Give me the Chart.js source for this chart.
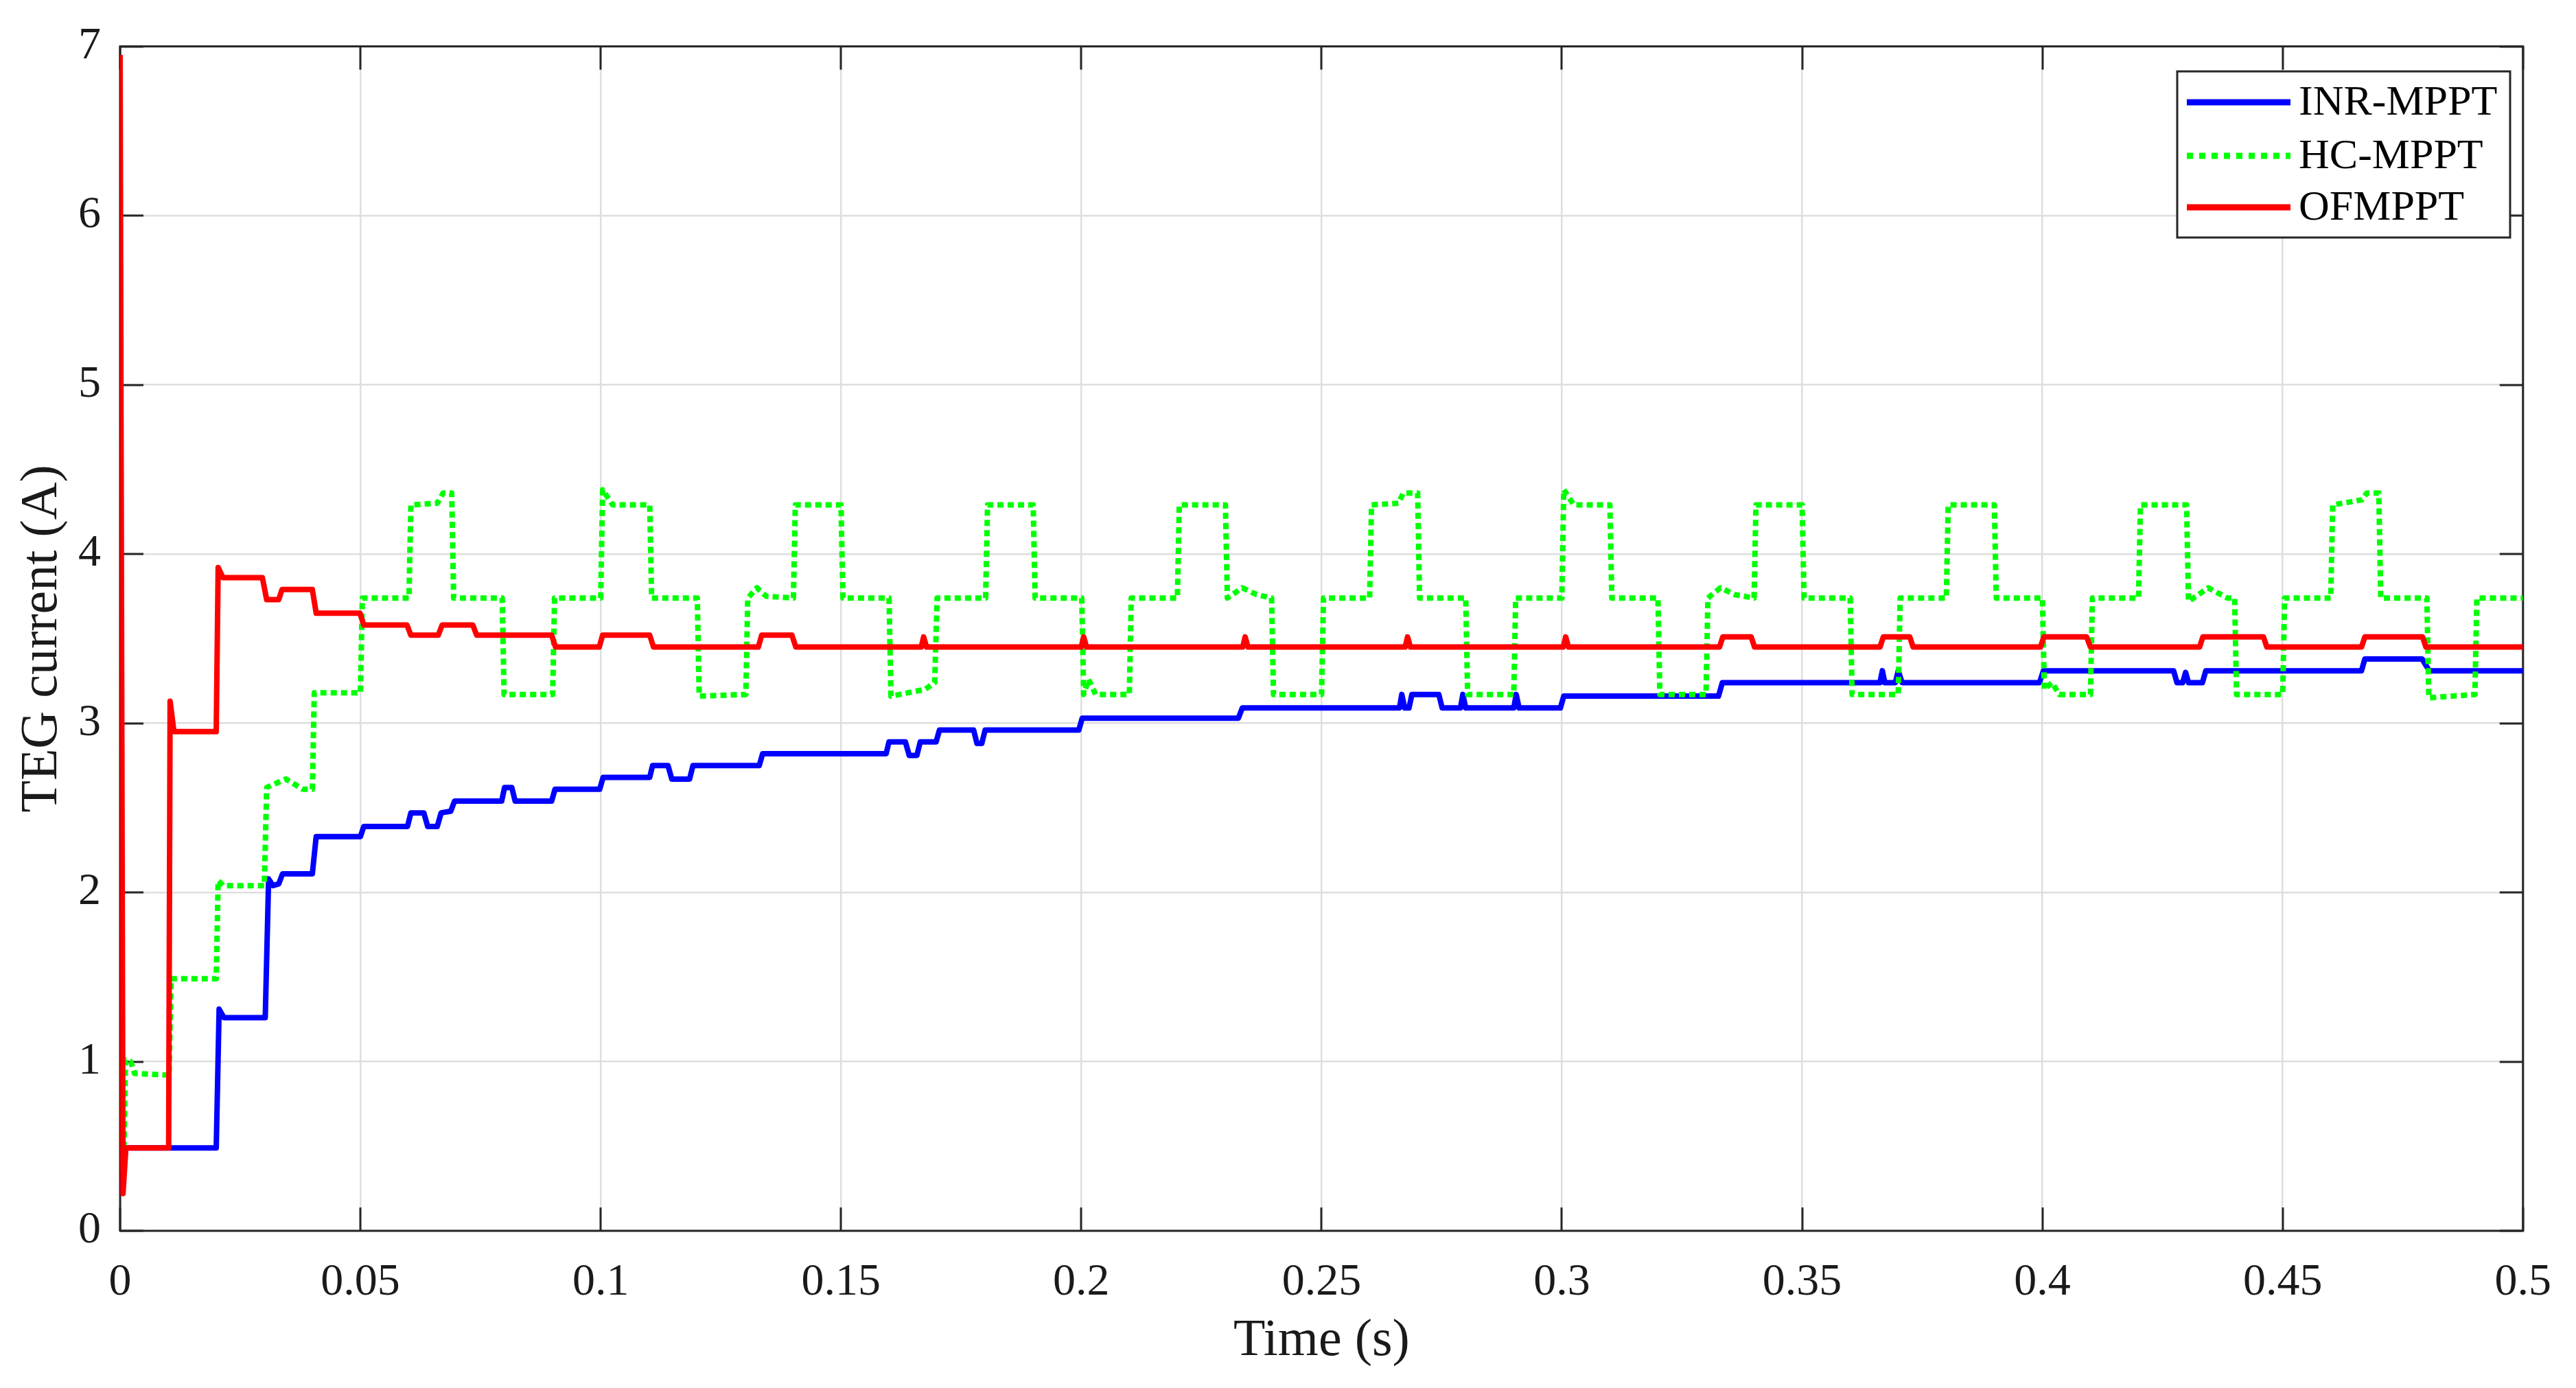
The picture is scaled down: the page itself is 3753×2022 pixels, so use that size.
<!DOCTYPE html>
<html>
<head>
<meta charset="utf-8">
<title>TEG current</title>
<script src="https://cdn.jsdelivr.net/npm/chart.js@4.4.1/dist/chart.umd.min.js"></script>
<style>
  html, body { margin: 0; padding: 0; background: #ffffff; }
  #wrap { width: 3753px; height: 2022px; }
</style>
</head>
<body>
<div id="wrap"><canvas id="tegChart" width="3753" height="2022"></canvas></div>
<script>
// tick positions and labels
const timeTicks = [0, 0.05, 0.1, 0.15, 0.2, 0.25, 0.3, 0.35, 0.4, 0.45, 0.5];
const timeTickLabels = ["0", "0.05", "0.1", "0.15", "0.2", "0.25", "0.3", "0.35", "0.4", "0.45", "0.5"];
const currentTicks = [0, 1, 2, 3, 4, 5, 6, 7];
const currentTickLabels = ["0", "1", "2", "3", "4", "5", "6", "7"];

const seriesNames = ["INR-MPPT", "HC-MPPT", "OFMPPT"];

// [time (s), current (A)]
const inrMppt = [
  [0, 0.22], [0.0012, 0.49], [0.0200, 0.49], [0.0206, 1.31], [0.0216, 1.26], [0.0302, 1.26],
  [0.0309, 2.08], [0.0318, 2.04], [0.0330, 2.05], [0.0338, 2.11], [0.0400, 2.11], [0.0408, 2.33],
  [0.0500, 2.33], [0.0507, 2.39], [0.0598, 2.39], [0.0605, 2.47], [0.0632, 2.47], [0.0640, 2.39],
  [0.0660, 2.39], [0.0668, 2.47], [0.0688, 2.48], [0.0696, 2.54], [0.0794, 2.54], [0.0800, 2.62],
  [0.0815, 2.62], [0.0822, 2.54], [0.0898, 2.54], [0.0905, 2.61], [0.0998, 2.61], [0.1005, 2.68],
  [0.1102, 2.68], [0.1108, 2.75], [0.1140, 2.75], [0.1148, 2.67], [0.1185, 2.67], [0.1192, 2.75],
  [0.1330, 2.75], [0.1337, 2.82], [0.1594, 2.82], [0.1600, 2.89], [0.1634, 2.89], [0.1642, 2.81],
  [0.1658, 2.81], [0.1665, 2.89], [0.1698, 2.89], [0.1705, 2.96], [0.1776, 2.96], [0.1783, 2.88],
  [0.1793, 2.88], [0.1800, 2.96], [0.1995, 2.96], [0.2002, 3.03], [0.2327, 3.03], [0.2335, 3.09],
  [0.2662, 3.09], [0.2667, 3.17], [0.2673, 3.09], [0.2682, 3.09], [0.2688, 3.17], [0.2744, 3.17],
  [0.2751, 3.09], [0.2789, 3.09], [0.2794, 3.17], [0.2800, 3.09], [0.2900, 3.09], [0.2905, 3.17],
  [0.2911, 3.09], [0.2997, 3.09], [0.3004, 3.16], [0.3326, 3.16], [0.3334, 3.24], [0.3662, 3.24],
  [0.3667, 3.31], [0.3672, 3.24], [0.3694, 3.24], [0.3700, 3.31], [0.3708, 3.24], [0.3994, 3.24],
  [0.4002, 3.31], [0.4273, 3.31], [0.4280, 3.24], [0.4292, 3.24], [0.4298, 3.30], [0.4304, 3.24],
  [0.4333, 3.24], [0.4340, 3.31], [0.4664, 3.31], [0.4671, 3.38], [0.4790, 3.38], [0.4805, 3.31],
  [0.5, 3.31]
];

const hcMppt = [
  [0.0008, 0.49], [0.0011, 1.01], [0.0022, 1.0], [0.0030, 0.93], [0.0102, 0.92], [0.0106, 1.49],
  [0.0200, 1.49], [0.0204, 2.07], [0.0215, 2.04], [0.0300, 2.04], [0.0305, 2.62], [0.0345, 2.67],
  [0.0380, 2.61], [0.0400, 2.61], [0.0404, 3.18], [0.0500, 3.18], [0.0504, 3.74], [0.0601, 3.74],
  [0.0605, 4.29], [0.0660, 4.30], [0.0672, 4.36], [0.0690, 4.36], [0.0694, 3.74], [0.0795, 3.74],
  [0.0799, 3.17], [0.0900, 3.17], [0.0904, 3.74], [0.1000, 3.74], [0.1004, 4.38], [0.1025, 4.29],
  [0.1102, 4.29], [0.1106, 3.74], [0.1201, 3.74], [0.1205, 3.16], [0.1302, 3.17], [0.1306, 3.74],
  [0.1325, 3.80], [0.1345, 3.75], [0.1401, 3.74], [0.1405, 4.29], [0.1500, 4.29], [0.1504, 3.74],
  [0.1600, 3.74], [0.1604, 3.16], [0.1675, 3.20], [0.1695, 3.24], [0.1700, 3.74], [0.1801, 3.74],
  [0.1805, 4.29], [0.1900, 4.29], [0.1904, 3.74], [0.2001, 3.74], [0.2005, 3.17], [0.2015, 3.26],
  [0.2030, 3.17], [0.2100, 3.17], [0.2104, 3.74], [0.2200, 3.74], [0.2204, 4.29], [0.2300, 4.29],
  [0.2304, 3.74], [0.2335, 3.80], [0.2365, 3.76], [0.2396, 3.74], [0.2400, 3.17], [0.2500, 3.17],
  [0.2504, 3.74], [0.2600, 3.74], [0.2604, 4.29], [0.2660, 4.30], [0.2670, 4.36], [0.2700, 4.36],
  [0.2704, 3.74], [0.2800, 3.74], [0.2804, 3.17], [0.2900, 3.17], [0.2904, 3.74], [0.3000, 3.74],
  [0.3004, 4.38], [0.3025, 4.29], [0.3100, 4.29], [0.3104, 3.74], [0.3200, 3.74], [0.3204, 3.17],
  [0.3300, 3.17], [0.3304, 3.74], [0.3330, 3.80], [0.3360, 3.76], [0.3400, 3.74], [0.3404, 4.29],
  [0.3500, 4.29], [0.3504, 3.74], [0.3600, 3.74], [0.3604, 3.17], [0.3700, 3.17], [0.3704, 3.74],
  [0.3800, 3.74], [0.3804, 4.29], [0.3900, 4.29], [0.3904, 3.74], [0.4000, 3.74], [0.4004, 3.20],
  [0.4020, 3.24], [0.4035, 3.17], [0.4100, 3.17], [0.4104, 3.74], [0.4200, 3.74], [0.4204, 4.29],
  [0.4300, 4.29], [0.4304, 3.72], [0.4345, 3.80], [0.4385, 3.74], [0.4400, 3.74], [0.4404, 3.17],
  [0.4500, 3.17], [0.4504, 3.74], [0.4600, 3.74], [0.4604, 4.29], [0.4665, 4.32], [0.4675, 4.36],
  [0.4700, 4.36], [0.4704, 3.74], [0.4800, 3.74], [0.4804, 3.15], [0.4900, 3.17], [0.4904, 3.74],
  [0.5, 3.74]
];

const ofMppt = [
  [0, 6.95], [0.0006, 0.22], [0.0012, 0.49], [0.0101, 0.49], [0.0104, 3.13], [0.0112, 2.95],
  [0.0200, 2.95], [0.0204, 3.92], [0.0214, 3.86], [0.0296, 3.86], [0.0305, 3.73], [0.0330, 3.73],
  [0.0337, 3.79], [0.0400, 3.79], [0.0408, 3.65], [0.0499, 3.65], [0.0507, 3.58], [0.0597, 3.58],
  [0.0605, 3.52], [0.0662, 3.52], [0.0670, 3.58], [0.0734, 3.58], [0.0742, 3.52], [0.0898, 3.52],
  [0.0906, 3.45], [0.0997, 3.45], [0.1004, 3.52], [0.1102, 3.52], [0.1110, 3.45], [0.1328, 3.45],
  [0.1335, 3.52], [0.1398, 3.52], [0.1406, 3.45], [0.1667, 3.45], [0.1672, 3.51], [0.1678, 3.45],
  [0.2000, 3.45], [0.2005, 3.51], [0.2011, 3.45], [0.2336, 3.45], [0.2341, 3.51], [0.2347, 3.45],
  [0.2674, 3.45], [0.2679, 3.51], [0.2685, 3.45], [0.3003, 3.45], [0.3008, 3.51], [0.3014, 3.45],
  [0.3328, 3.45], [0.3335, 3.51], [0.3394, 3.51], [0.3401, 3.45], [0.3662, 3.45], [0.3669, 3.51],
  [0.3724, 3.51], [0.3731, 3.45], [0.3996, 3.45], [0.4003, 3.51], [0.4092, 3.51], [0.4100, 3.45],
  [0.4327, 3.45], [0.4334, 3.51], [0.4460, 3.51], [0.4467, 3.45], [0.4664, 3.45], [0.4671, 3.51],
  [0.4791, 3.51], [0.4798, 3.45], [0.5, 3.45]
];

const FONT = "'Liberation Serif', 'Times New Roman', serif";
const INK = "#1a1a1a";

function toPoints(pairs) {
  return pairs.map(p => ({ x: p[0], y: p[1] }));
}

// MATLAB style box with inward ticks on all four sides
const boxPlugin = {
  id: "box",
  beforeDatasetsDraw(chart) {
    const { ctx, chartArea: a, scales: { x, y } } = chart;
    const len = 34;
    ctx.save();
    ctx.strokeStyle = "#262626";
    ctx.lineWidth = 3;
    ctx.beginPath();
    timeTicks.forEach(v => {
      const px = Math.round(x.getPixelForValue(v));
      ctx.moveTo(px, a.bottom); ctx.lineTo(px, a.bottom - len);
      ctx.moveTo(px, a.top); ctx.lineTo(px, a.top + len);
    });
    currentTicks.forEach(v => {
      const py = Math.round(y.getPixelForValue(v));
      ctx.moveTo(a.left, py); ctx.lineTo(a.left + len, py);
      ctx.moveTo(a.right, py); ctx.lineTo(a.right - len, py);
    });
    ctx.stroke();
    ctx.strokeRect(a.left, a.top, a.right - a.left, a.bottom - a.top);
    ctx.restore();
  }
};

// boxed legend in the upper right corner
const legendBox = {
  id: "legendBox",
  afterDraw(chart) {
    const { ctx } = chart;
    const bx = 3172, by = 104, bw = 485, bh = 242;
    const rows = [149, 227, 302];
    ctx.save();
    ctx.fillStyle = "#ffffff";
    ctx.fillRect(bx, by, bw, bh);
    ctx.strokeStyle = "#262626";
    ctx.lineWidth = 3;
    ctx.strokeRect(bx, by, bw, bh);
    chart.data.datasets.forEach((ds, i) => {
      ctx.strokeStyle = ds.borderColor;
      ctx.lineWidth = 9;
      ctx.setLineDash(ds.borderDash ? [9, 9] : []);
      ctx.beginPath();
      ctx.moveTo(3186, rows[i]);
      ctx.lineTo(3337, rows[i]);
      ctx.stroke();
      ctx.setLineDash([]);
      ctx.fillStyle = "#000000";
      ctx.font = "62px " + FONT;
      ctx.textBaseline = "middle";
      ctx.textAlign = "left";
      ctx.fillText(ds.label, 3349, rows[i] + 2);
    });
    ctx.restore();
  }
};

const tickFont = { family: FONT, size: 66 };
const titleFont = { family: FONT, size: 76, lineHeight: 1.2 };

new Chart(document.getElementById("tegChart"), {
  type: "line",
  data: {
    datasets: [
      { label: seriesNames[0], data: toPoints(inrMppt), borderColor: "#0000ff", borderWidth: 8, order: 2 },
      { label: seriesNames[1], data: toPoints(hcMppt), borderColor: "#00ff00", borderWidth: 8, borderDash: [9, 6], order: 1 },
      { label: seriesNames[2], data: toPoints(ofMppt), borderColor: "#ff0000", borderWidth: 8, order: 0 }
    ]
  },
  options: {
    responsive: false,
    animation: false,
    devicePixelRatio: 1,
    layout: { padding: { top: 64, right: 57, left: 0, bottom: 0 } },
    elements: {
      point: { radius: 0 },
      line: { tension: 0, fill: false, borderCapStyle: "butt", borderJoinStyle: "round" }
    },
    plugins: {
      legend: { display: false },
      tooltip: { enabled: false }
    },
    scales: {
      x: {
        type: "linear",
        min: 0,
        max: 0.5,
        afterBuildTicks: s => { s.ticks = timeTicks.map(v => ({ value: v })); },
        afterFit: s => { s.height = 229; },
        grid: { color: "#dedede", lineWidth: 2.5, drawTicks: false },
        border: { display: false },
        ticks: {
          autoSkip: false,
          maxRotation: 0,
          padding: 36,
          color: INK,
          font: tickFont,
          callback: (v, i) => timeTickLabels[i]
        },
        title: { display: true, text: "Time (s)", color: INK, font: titleFont, padding: { top: 0, bottom: 22 } }
      },
      y: {
        min: 0,
        max: 7,
        afterBuildTicks: s => { s.ticks = currentTicks.map(v => ({ value: v })); },
        afterFit: s => { s.width = 175; },
        grid: { color: "#dedede", lineWidth: 2.5, drawTicks: false },
        border: { display: false },
        ticks: {
          padding: 28,
          color: INK,
          font: tickFont,
          callback: (v, i) => currentTickLabels[i]
        },
        title: { display: true, text: "TEG current (A)", color: INK, font: titleFont, padding: { top: 16, bottom: 0 } }
      }
    }
  },
  plugins: [boxPlugin, legendBox]
});
</script>
</body>
</html>
